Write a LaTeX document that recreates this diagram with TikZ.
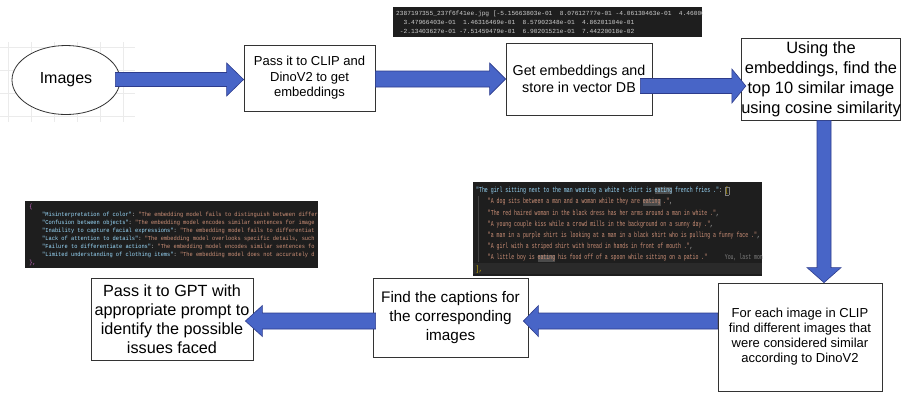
\documentclass[tikz,border=0pt]{standalone}
\usepackage{fontspec}
\usepackage{graphicx}
\setmainfont{Liberation Sans}
\setmonofont{Liberation Mono}
\usetikzlibrary{calc,shapes.geometric}
\definecolor{arrowfill}{RGB}{72,101,199}
\definecolor{arrowline}{RGB}{45,60,140}
\definecolor{scrbg}{RGB}{30,30,30}
\definecolor{linehl}{RGB}{42,42,42}
\definecolor{keyblue}{RGB}{156,220,254}
\definecolor{strorange}{RGB}{206,145,120}
\definecolor{codegray}{RGB}{204,204,204}
\definecolor{bracepink}{RGB}{218,112,214}
\definecolor{bracegold}{RGB}{255,215,0}
\definecolor{hlbg}{RGB}{75,75,75}
\definecolor{guide}{RGB}{64,64,64}
\newcommand\chs[1]{\hspace*{#1\fontcharwd\font`0}}
\newcommand\hlw[1]{{\setlength\fboxsep{0pt}\colorbox{hlbg}{#1}}}
\newcommand\harrowR[5]{\draw[barrow] ($(#1)+(0,-#3)$) -- ($(#2)+(-#5,-#3)$) -- ($(#2)+(-#5,-#4)$) -- (#2) -- ($(#2)+(-#5,#4)$) -- ($(#2)+(-#5,#3)$) -- ($(#1)+(0,#3)$) -- cycle;}
\newcommand\harrowL[5]{\draw[barrow] ($(#1)+(0,-#3)$) -- ($(#2)+(#5,-#3)$) -- ($(#2)+(#5,-#4)$) -- (#2) -- ($(#2)+(#5,#4)$) -- ($(#2)+(#5,#3)$) -- ($(#1)+(0,#3)$) -- cycle;}
\newcommand\varrowD[5]{\draw[barrow] ($(#1)+(-#3,0)$) -- ($(#2)+(-#3,-#5)$) -- ($(#2)+(-#4,-#5)$) -- (#2) -- ($(#2)+(#4,-#5)$) -- ($(#2)+(#3,-#5)$) -- ($(#1)+(#3,0)$) -- cycle;}
\tikzset{
  box/.style={draw=black!80, line width=0.8pt, fill=white, inner sep=2pt, align=center},
  barrow/.style={fill=arrowfill, draw=arrowline, line width=0.6pt, line join=miter},
  codetxt/.style={anchor=north west, inner sep=0pt},
  gridline/.style={draw=black!8, line width=0.4pt},
}
\begin{document}
\begin{tikzpicture}[x=1pt,y=-1pt]
\useasboundingbox (0,0) rectangle (901,392);
\fill[white] (0,0) rectangle (901,392);

% faint grid behind the ellipse
\foreach \gx in {8,31,54,77,100,123} \draw[gridline] (\gx,42) -- (\gx,122);
\foreach \gy in {47,70,93,116} \draw[gridline] (0,\gy) -- (135,\gy);

% nodes
\node[box, ellipse, minimum width=108pt, minimum height=69pt, font=\fontsize{16}{19}\selectfont] (img) at (66,80) {Images};
\node[box, minimum width=131pt, minimum height=66pt, font=\fontsize{13}{15.5}\selectfont] (b1) at (309.5,78) {Pass it to CLIP and\\DinoV2 to get\\embeddings};
\node[box, minimum width=146pt, minimum height=72pt, font=\fontsize{14.3}{16.7}\selectfont] (b2) at (579,79) {Get embeddings and\\store in vector DB};
\node[box, minimum width=158pt, minimum height=82pt, inner sep=0pt, font=\fontsize{16.4}{20}\selectfont] (b3) at (821,79) {\raisebox{-3pt}{\setlength\tabcolsep{0pt}\begin{tabular}{c}Using the\\embeddings, find the\\top 10 similar image\\using cosine similarity\end{tabular}}};
\node[box, minimum width=164pt, minimum height=108pt, font=\fontsize{13}{15}\selectfont] (b4) at (800,337) {For each image in CLIP\\find different images that\\were considered similar\\according to DinoV2};
\node[box, minimum width=155pt, minimum height=79pt, font=\fontsize{15.3}{18.7}\selectfont] (b5) at (450.5,317.5) {Find the captions for\\the corresponding\\images};
\node[box, minimum width=162pt, minimum height=82pt, font=\fontsize{16.2}{19}\selectfont] (b6) at (172,319) {Pass it to GPT with\\appropriate prompt to\\identify the possible\\issues faced};

% block arrows
\coordinate (a1t) at ($(b1.west)+(0,1.5)$);
\coordinate (a1s) at ($(img.east |- a1t)+(-5,0)$);
\harrowR{a1s}{a1t}{7}{16.5}{17}
\coordinate (a2t) at (b2.west);
\coordinate (a2s) at (b1.east |- a2t);
\harrowR{a2s}{a2t}{8}{16}{16}
\coordinate (a3t) at ($(b3.west)+(5,7)$);
\coordinate (a3s) at ($(b2.east |- a3t)+(-12,0)$);
\harrowR{a3s}{a3t}{7.5}{17}{14}
\coordinate (a4s) at ($(b3.south)+(3,0)$);
\coordinate (a4t) at (a4s |- b4.north);
\varrowD{a4s}{a4t}{7}{17}{15}
\coordinate (a5s) at ($(b4.west)+(0,-16)$);
\coordinate (a5t) at ($(b5.east |- a5s)+(-5,0)$);
\harrowL{a5s}{a5t}{8}{15.5}{15}
\coordinate (a6s) at ($(b5.west |- a5s)+(3,0)$);
\coordinate (a6t) at ($(b6.east |- a5s)+(-8,0)$);
\harrowL{a6s}{a6t}{8}{15.5}{17}

% top screenshot: embeddings
\begin{scope}
\clip (393,7) rectangle (702,37);
\fill[scrbg] (393,7) rectangle (702,37);
\node[codetxt, text=codegray] (emb) at (396,8.8) {\ttfamily\fontsize{6.2}{9.2}\selectfont\begin{tabular}{@{}l@{}}
2387197355\_237f6f41ee.jpg [-5.15663803e-01~~8.07612777e-01 -4.06130463e-01~~4.46000367e-01\\
\chs{2}3.47966403e-01~~1.46316469e-01~~8.57902348e-01~~4.86201104e-01\\
\chs{1}-2.13403627e-01 -7.51459479e-01~~6.90201521e-01~~7.44220018e-02
\end{tabular}};
\end{scope}

% left screenshot: issues json
\begin{scope}
\clip (25,201) rectangle (318,268);
\fill[scrbg] (25,201) rectangle (318,268);
\node[codetxt] (issues) at (29.2,203) {\ttfamily\fontsize{6}{8}\selectfont\scalebox{0.89}[1]{\begin{tabular}{@{}l@{}}
\textcolor{bracepink}{\{}\\
\chs{4}\textcolor{keyblue}{"Misinterpretation of color"}\textcolor{codegray}{:~}\textcolor{strorange}{"The embedding model fails to distinguish between differ}\\
\chs{4}\textcolor{keyblue}{"Confusion between objects"}\textcolor{codegray}{:~}\textcolor{strorange}{"The embedding model encodes similar sentences for image}\\
\chs{4}\textcolor{keyblue}{"Inability to capture facial expressions"}\textcolor{codegray}{:~}\textcolor{strorange}{"The embedding model fails to differentiat}\\
\chs{4}\textcolor{keyblue}{"Lack of attention to details"}\textcolor{codegray}{:~}\textcolor{strorange}{"The embedding model overlooks specific details, such}\\
\chs{4}\textcolor{keyblue}{"Failure to differentiate actions"}\textcolor{codegray}{:~}\textcolor{strorange}{"The embedding model encodes similar sentences fo}\\
\chs{4}\textcolor{keyblue}{"Limited understanding of clothing items"}\textcolor{codegray}{:~}\textcolor{strorange}{"The embedding model does not accurately d}\\
\textcolor{bracepink}{\},}
\end{tabular}}};
\end{scope}

% middle screenshot: captions
\begin{scope}
\clip (473,182) rectangle (762,276);
\fill[scrbg] (473,182) rectangle (762,276);
\fill[linehl] (473,262.5) rectangle (762,273.5);
\draw[guide, line width=0.5pt] (478.5,196) -- (478.5,262);
\node[codetxt] (caps) at (476,184.7) {\ttfamily\fontsize{7.5}{11.2}\selectfont\scalebox{0.65}[1]{\begin{tabular}{@{}l@{}}
\textcolor{keyblue}{"The girl sitting next to the man wearing a white t-shirt is \hlw{eating} french fries ."}\textcolor{codegray}{:~}{\setlength\fboxsep{0.4pt}\setlength\fboxrule{0.4pt}\fcolorbox{gray}{scrbg}{\textcolor{bracegold}{[}}}\\
\chs{4}\textcolor{strorange}{"A dog sits between a man and a woman while they are \hlw{eating} ."}\textcolor{codegray}{,}\\
\chs{4}\textcolor{strorange}{"The red haired woman in the black dress has her arms around a man in white ."}\textcolor{codegray}{,}\\
\chs{4}\textcolor{strorange}{"A young couple kiss while a crowd mills in the background on a sunny day ."}\textcolor{codegray}{,}\\
\chs{4}\textcolor{strorange}{"a man in a purple shirt is looking at a man in a black shirt who is pulling a funny face ."}\textcolor{codegray}{,}\\
\chs{4}\textcolor{strorange}{"A girl with a striped shirt with bread in hands in front of mouth ."}\textcolor{codegray}{,}\\
\chs{4}\textcolor{strorange}{"A little boy is \hlw{eating} his food off of a spoon while sitting on a patio ."}~~~~~~\textcolor{gray}{You, last mon}\\
\textcolor{bracegold}{],}
\end{tabular}}};
\end{scope}
\end{tikzpicture}
\end{document}
